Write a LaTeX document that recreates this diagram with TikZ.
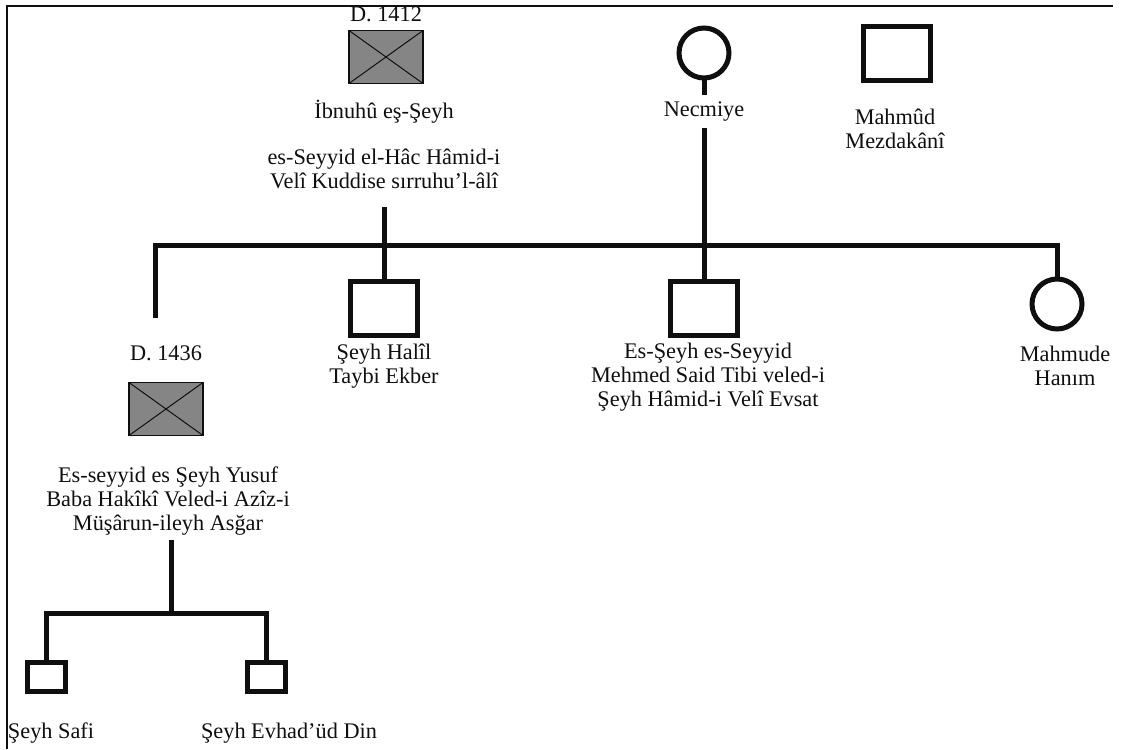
\documentclass[tikz,border=0pt]{standalone}
\usepackage{fontspec}
\setmainfont{Liberation Serif}
\definecolor{boxgray}{RGB}{133,133,133}
\definecolor{inkblack}{RGB}{15,15,15}
\begin{document}
\begin{tikzpicture}[x=1pt,y=-1pt,
  every node/.style={inner sep=0pt, outer sep=0pt},
  txt/.style={font=\fontsize{22.3}{24}\selectfont, align=center, text=inkblack},
  malebox/.style={draw=inkblack, rectangle, line width=5pt, minimum width=67pt, minimum height=54pt},
  smallmale/.style={draw=inkblack, rectangle, line width=5pt, minimum width=38pt, minimum height=29pt},
  femalec/.style={draw=inkblack, circle, line width=5pt, minimum size=50pt},
  deadbox/.style={draw=inkblack, fill=boxgray, rectangle, line width=1.2pt, minimum width=74pt, minimum height=53pt,
     path picture={\draw[line width=1pt, inkblack] (path picture bounding box.north west) -- (path picture bounding box.south east)
        (path picture bounding box.south west) -- (path picture bounding box.north east);}},
  kin/.style={draw=inkblack, line width=5pt, line join=miter}
]
\useasboundingbox (0,0) rectangle (1123,749);
\fill[white] (0,0) rectangle (1123,749);
% frame
\draw[line width=2pt, inkblack] (7,749) -- (7,6) -- (1113,6);

% top generation
\node[txt] (d1412) at (386,14) {D. 1412};
\node[deadbox] (hamid) at (386,57) {};
\node[txt] (ibnuhu) at (384,112) {İbnuhû eş-Şeyh};
\node[txt] (hamidlbl) at (384,169) {es-Seyyid el-Hâc Hâmid-i\\Velî Kuddise sırruhu’l-âlî};

\node[femalec] (necmiye) at (704,53) {};
\node[txt] (necmiyelbl) at (704,112) {Necmiye};

\node[malebox] (mahmud) at (897,54) {};
\node[txt] (mahmudlbl) at (895,129) {Mahmûd\\Mezdakânî};

% sibship line
\coordinate (h1) at (384,207);
\coordinate (j1) at (384,245);
\coordinate (n1) at (704,128);
\coordinate (nstub) at (704,95);
\coordinate (j2) at (704,245);
\coordinate (lc) at (155,245);
\coordinate (lend) at (155,318);
\coordinate (rc) at (1057,245);

% children
\node[malebox] (halil) at (384,308) {};
\node[txt] (halillbl) at (384,366) {Şeyh Halîl\\Taybi Ekber};

\node[malebox] (mehmed) at (704,308) {};
\node[txt] (mehmedlbl) at (708,377) {Es-Şeyh es-Seyyid\\Mehmed Said Tibi veled-i\\Şeyh Hâmid-i Velî Evsat};

\node[femalec] (mahmude) at (1057,304) {};
\node[txt] (mahmudelbl) at (1065,366) {Mahmude\\Hanım};

\node[txt] (d1436) at (166,353) {D. 1436};
\node[deadbox] (yusuf) at (166,409) {};
\node[txt] (yusuflbl) at (168,501) {Es-seyyid es Şeyh Yusuf\\Baba Hakîkî Veled-i Azîz-i\\Müşârun-ileyh Asğar};

% grandchildren
\coordinate (y1) at (171,540);
\coordinate (y2) at (171,613);
\coordinate (glc) at (46,613);
\coordinate (grc) at (266,613);
\node[smallmale] (safi) at (46,677) {};
\node[smallmale] (evhad) at (266,677) {};
\node[txt, anchor=west] (safilbl) at (8,733) {Şeyh Safi};
\node[txt] (evhadlbl) at (289,733) {Şeyh Evhad’üd Din};

% connectors
\draw[kin] (h1) -- (j1);
\draw[kin] (necmiye.south) -- (nstub);
\draw[kin] (n1) -- (j2);
\draw[kin] (lend) -- (lc) -- (rc) -- (mahmude.north);
\draw[kin] (j1) -- (halil.north);
\draw[kin] (j2) -- (mehmed.north);
\draw[kin] (y1) -- (y2);
\draw[kin] (safi.north) -- (glc) -- (grc) -- (evhad.north);
\end{tikzpicture}
\end{document}
